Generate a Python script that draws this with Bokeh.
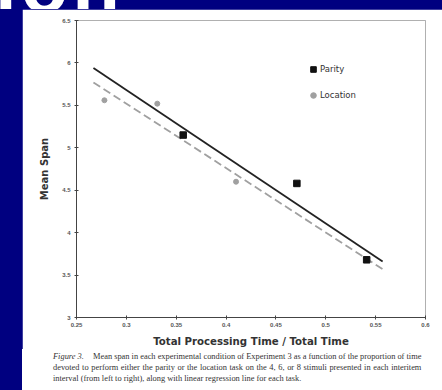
from bokeh.plotting import figure
from bokeh.models import (Range1d, FixedTicker, CustomJSTickFormatter,
                          Spacer, Div, GlobalInlineStyleSheet)
from bokeh.layouts import row, column
from bokeh.embed import file_html
from bokeh.resources import INLINE

# ---- data ----
parity_x = [0.357, 0.471, 0.541]
parity_y = [5.15, 4.58, 3.68]
location_x = [0.278, 0.331, 0.410]
location_y = [5.56, 5.52, 4.60]
fit_x = [0.267, 0.557]
parity_fit = [5.94, 3.66]
location_fit = [5.77, 3.57]
x_ticks = [0.25, 0.3, 0.35, 0.4, 0.45, 0.5, 0.55, 0.6]
y_ticks = [3, 3.5, 4, 4.5, 5, 5.5, 6, 6.5]
caption_label = "Figure 3."
caption_lines = [
    "Mean span in each experimental condition of Experiment 3 as a function of the proportion of time",
    "devoted to perform either the parity or the location task on the 4, 6, or 8 stimuli presented in each interitem",
    "interval (from left to right), along with linear regression line for each task.",
]
slide_title_fragment = "ion"

NAVY = "#000080"
W, H = 420, 340

p = figure(width=W, height=H, output_backend="svg", toolbar_location=None,
           x_range=Range1d(0.25, 0.6), y_range=Range1d(3, 6.5),
           min_border_left=54, min_border_right=17, min_border_top=11, min_border_bottom=32,
           background_fill_color="white", border_fill_color="white")
p.xgrid.visible = False
p.ygrid.visible = False
p.outline_line_color = "#b0b0b0"
p.outline_line_width = 1

fmt = CustomJSTickFormatter(code="return String(Number(tick.toFixed(2)));")
for ax, ticks in ((p.xaxis[0], x_ticks), (p.yaxis[0], y_ticks)):
    ax.ticker = FixedTicker(ticks=ticks)
    ax.formatter = fmt
    ax.axis_line_color = "#444444"
    ax.axis_line_width = 1
    ax.major_tick_line_color = "#444444"
    ax.major_tick_in = 2
    ax.major_tick_out = 2
    ax.minor_tick_line_color = None
    ax.major_label_text_font = "Liberation Sans"
    ax.major_label_text_font_size = "6px"
    ax.major_label_text_font_style = "bold"
    ax.major_label_text_color = "#555555"
    ax.axis_label_text_font = "DejaVu Sans"
    ax.axis_label_text_font_style = "bold"
    ax.axis_label_text_color = "#333333"

p.xaxis.axis_label = "Total Processing Time / Total Time"
p.xaxis.axis_label_text_font_size = "10.2px"
p.xaxis.major_label_standoff = 3
p.xaxis.axis_label_standoff = 6
p.yaxis.axis_label = "Mean Span"
p.yaxis.axis_label_text_font_size = "10px"
p.yaxis.major_label_standoff = 4
p.yaxis.axis_label_standoff = 9

p.line(fit_x, parity_fit, line_color="#222222", line_width=1.8)
p.line(fit_x, location_fit, line_color="#a0a0a0", line_width=1.8, line_dash="8 4")
p.scatter(parity_x, parity_y, marker="square", size=6.5, fill_color="#111111",
          line_color="#111111", legend_label="Parity")
p.scatter(location_x, location_y, marker="circle", size=5, fill_color="#a0a0a0",
          line_color="#a0a0a0", legend_label="Location")

lg = p.legend[0]
lg.location = (230, 215)
lg.background_fill_alpha = 0
lg.border_line_color = None
lg.label_text_font = "DejaVu Sans"
lg.label_text_font_size = "8.5px"
lg.label_text_color = "#333333"
lg.glyph_width = 14
lg.glyph_height = 14
lg.label_standoff = 0
lg.spacing = 12
lg.padding = 0
lg.margin = 0

# slide title fragment cut off at the top edge
top = Div(text=("<div style='font: bold 78px \"Liberation Sans\"; color: white; "
                "line-height: 78px; margin-top: -58px; margin-left: -5px; "
                "letter-spacing: 4px; white-space: nowrap;'>"
                + slide_title_fragment + "</div>"),
          width=442, height=9, margin=0, styles={"overflow": "hidden"})

# figure caption below the chart
line_style = "white-space: nowrap;"
cap_html = (
    "<div style='font-family: \"Liberation Serif\"; font-size: 8.4px; color: #333333; "
    "line-height: 11px; padding-top: 2px; margin-left: 31px; margin-right: 11px;'>"
    "<div style='" + line_style + "'><i style='display: inline-block; width: 40px;'>"
    + caption_label + "</i>" + caption_lines[0] + "</div>"
    "<div style='" + line_style + " text-align: justify; text-align-last: justify;'>"
    + caption_lines[1] + "</div>"
    "<div style='" + line_style + "'>" + caption_lines[2] + "</div>"
    "</div>")
caption = Div(text=cap_html, width=W, height=41, margin=0,
              styles={"background-color": "white", "overflow": "hidden"})

sheet = GlobalInlineStyleSheet(css="html, body { background-color: %s; }" % NAVY)
layout = column(top,
                row(Spacer(width=22, height=H), p, spacing=0),
                row(Spacer(width=22, height=41), caption, spacing=0),
                spacing=0, stylesheets=[sheet])

open("out.html", "w").write(file_html(layout, INLINE))
